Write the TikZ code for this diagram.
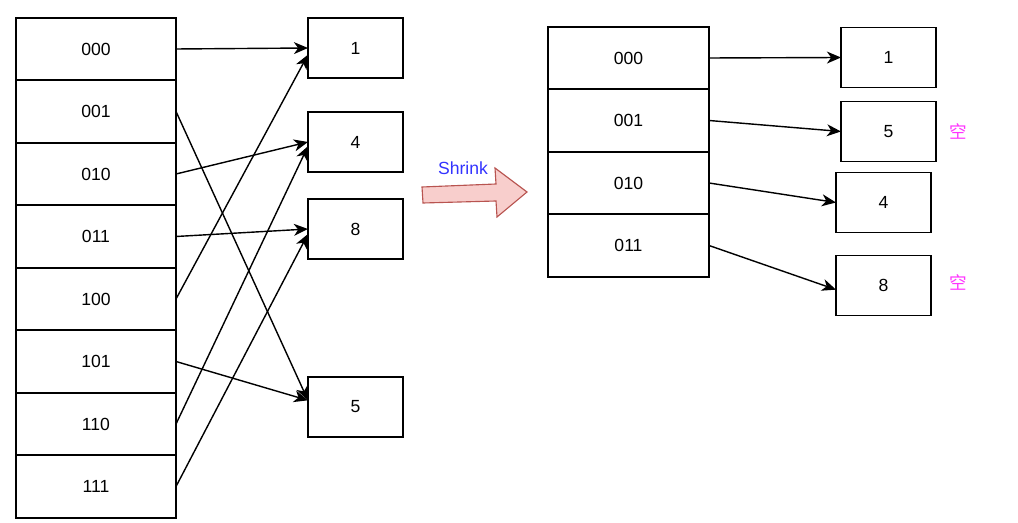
\documentclass[tikz,border=0pt]{standalone}
\usepackage{fontspec}
\setmainfont{Liberation Sans}
\newfontfamily\cjk{Noto Sans CJK SC}
\usetikzlibrary{arrows.meta}

\definecolor{shrinkfill}{HTML}{F8CECC}
\definecolor{shrinkline}{HTML}{B85450}
\definecolor{shrinktext}{HTML}{3333FF}
\definecolor{emptytext}{HTML}{FF33FF}

\begin{document}
\begin{tikzpicture}[x=0.025cm, y=-0.025cm,
    every node/.style={font=\fontsize{12.5}{14}\selectfont},
    cell/.style={draw, line width=1.1pt, minimum width=4cm, minimum height=1.5625cm, inner sep=0pt, outer sep=0pt},
    val/.style={draw, line width=1.1pt, minimum width=2.375cm, minimum height=1.5cm, inner sep=0pt, outer sep=0pt},
    ptr/.style={line width=1pt, -{Stealth[length=10pt, width=8.5pt, inset=3pt]}}]
    \useasboundingbox (0,0) rectangle (1018,523);

    % left table
    \node[cell] (c000) at (96,49) {000};
    \node[cell] (c001) at (96,111.5) {001};
    \node[cell] (c010) at (96,174) {010};
    \node[cell] (c011) at (96,236.5) {011};
    \node[cell] (c100) at (96,299) {100};
    \node[cell] (c101) at (96,361.5) {101};
    \node[cell] (c110) at (96,424) {110};
    \node[cell] (c111) at (96,486.5) {111};

    \node[val] (v1) at (355.5,48) {1};
    \node[val] (v4) at (355.5,142) {4};
    \node[val] (v8) at (355.5,229) {8};
    \node[val] (v5) at (355.5,407) {5};

    \draw[ptr] (c000.east) -- (v1.west);
    \draw[ptr] (c001.east) -- (v5.172);
    \draw[ptr] (c010.east) -- (v4.west);
    \draw[ptr] (c011.east) -- (v8.west);
    \draw[ptr] (c100.east) -- (v1.188);
    \draw[ptr] (c101.east) -- (v5.172);
    \draw[ptr] (c110.east) -- (v4.185);
    \draw[ptr] (c111.east) -- (v8.186);

    % shrink arrow
    \draw[line width=0.8pt, draw=shrinkline, fill=shrinkfill]
        (422,187) -- (496,184) -- (495,168) -- (527,192) -- (497,217)
        -- (496,201) -- (423,203) -- cycle;
    \node[text=shrinktext] (shrink) at (463,168) {Shrink};

    % right table
    \node[cell, minimum width=4.025cm] (d000) at (628.5,58) {000};
    \node[cell, minimum width=4.025cm] (d001) at (628.5,120.5) {001};
    \node[cell, minimum width=4.025cm] (d010) at (628.5,183) {010};
    \node[cell, minimum width=4.025cm] (d011) at (628.5,245.5) {011};

    \node[val] (r1) at (888.5,57.5) {1};
    \node[val] (r5) at (888.5,131.5) {5};
    \node[val] (r4) at (883.5,202.5) {4};
    \node[val] (r8) at (883.5,285.5) {8};

    \draw[ptr] (d000.east) -- (r1.west);
    \draw[ptr] (d001.east) -- (r5.west);
    \draw[ptr] (d010.east) -- (r4.west);
    \draw[ptr] (d011.east) -- (r8.185);

    \node[text=emptytext, font=\cjk\fontsize{12.5}{14}\selectfont] (e5) at (958,131) {空};
    \node[text=emptytext, font=\cjk\fontsize{12.5}{14}\selectfont] (e8) at (958,282) {空};
\end{tikzpicture}
\end{document}
